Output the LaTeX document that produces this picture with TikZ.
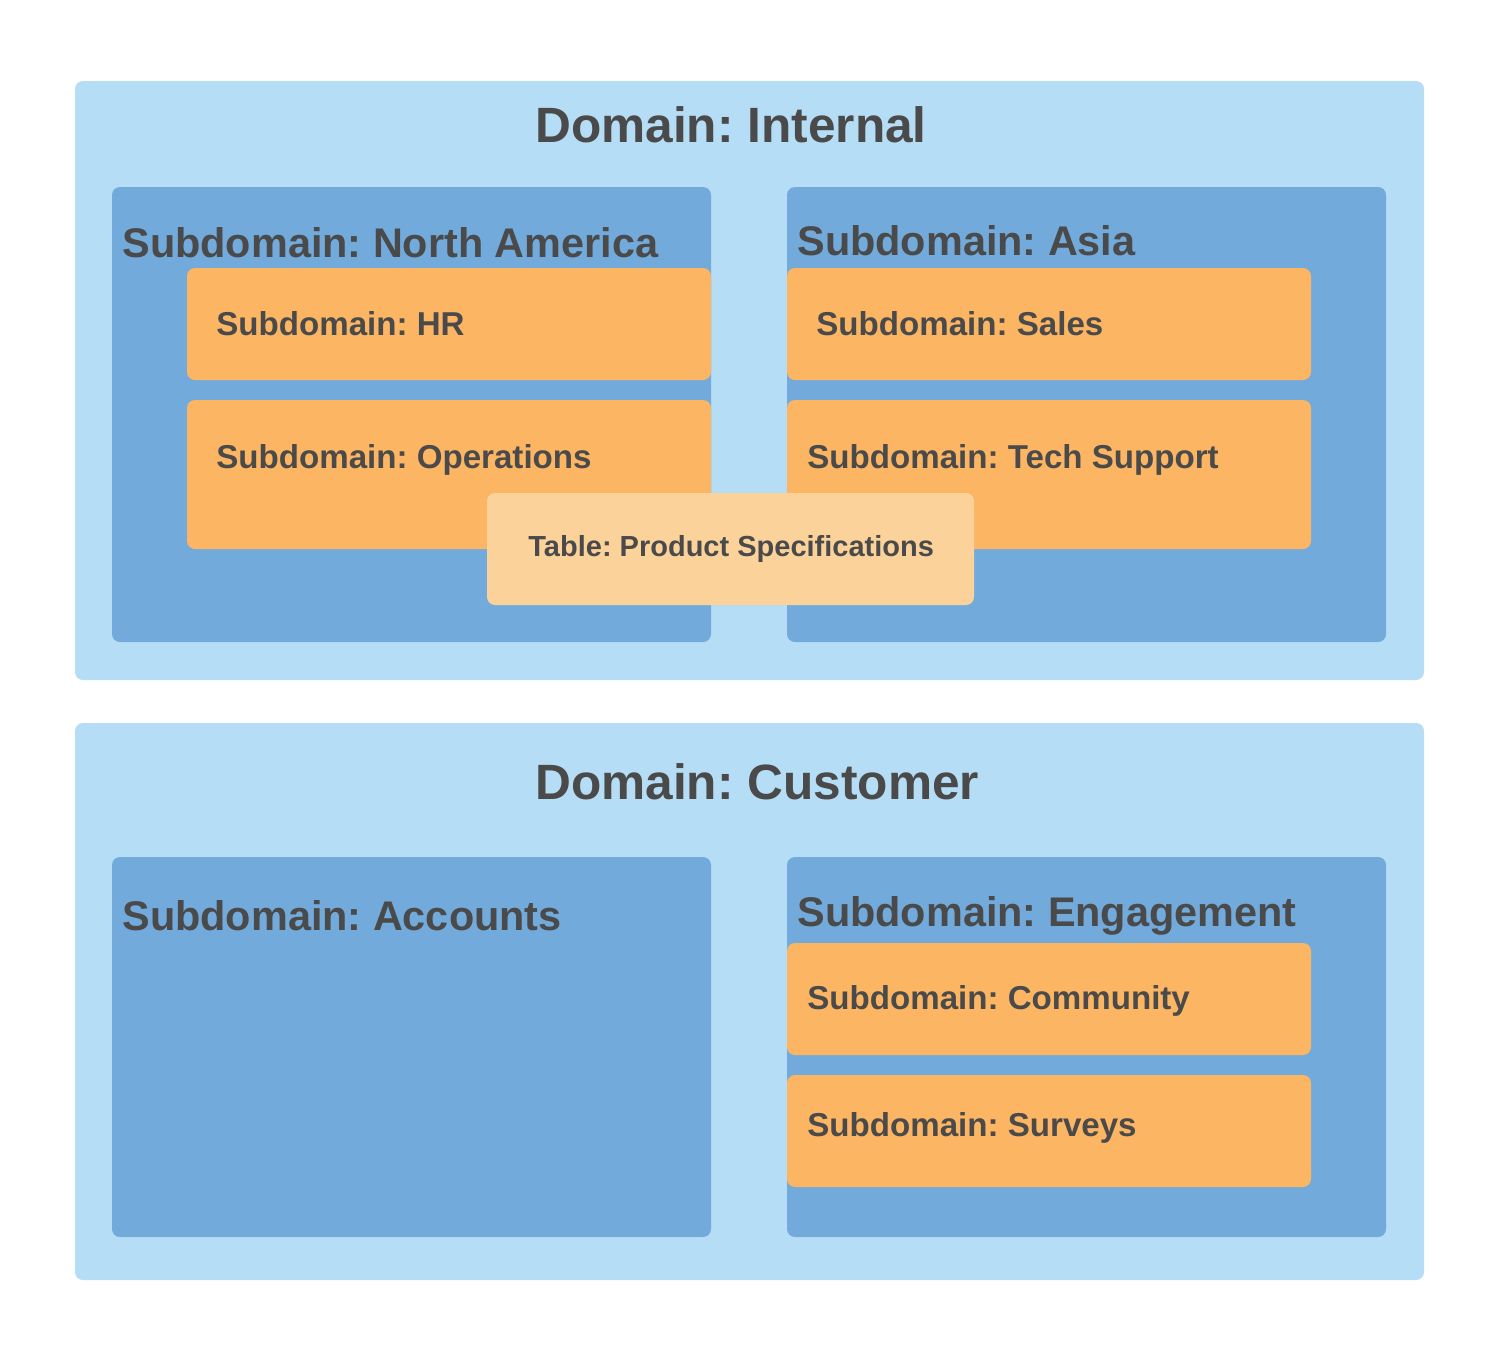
\documentclass[tikz,border=0pt]{standalone}
\usepackage{fontspec}
\setmainfont{Liberation Sans}
\frenchspacing
\definecolor{outerblue}{HTML}{B5DDF5}
\definecolor{innerblue}{HTML}{72AADB}
\definecolor{orangebox}{HTML}{FBB563}
\definecolor{paleorange}{HTML}{FCD29B}
\definecolor{txt}{HTML}{4A4A4A}
\tikzset{
  domainbox/.style={fill=outerblue, draw=none, rounded corners=4pt},
  subbox/.style={fill=innerblue, draw=none, rounded corners=4pt},
  leafbox/.style={fill=orangebox, draw=none, rounded corners=4pt},
  tablebox/.style={fill=paleorange, draw=none, rounded corners=4pt},
  domtitle/.style={anchor=base west, inner sep=0pt, text=txt, font=\bfseries\fontsize{24.8}{30}\selectfont},
  subtitle/.style={anchor=base west, inner sep=0pt, text=txt, font=\bfseries\fontsize{20.7}{24}\selectfont},
  leaftitle/.style={anchor=base west, inner sep=0pt, text=txt, font=\bfseries\fontsize{16.55}{19}\selectfont},
  tabletitle/.style={anchor=base west, inner sep=0pt, text=txt, font=\bfseries\fontsize{14.5}{17}\selectfont},
}
\begin{document}
\begin{tikzpicture}[x=0.5pt, y=-0.5pt]
\useasboundingbox (0,0) rectangle (1500,1356);
\fill[white] (0,0) rectangle (1500,1356);
% Domain Internal
\draw[domainbox] (75,81) rectangle (1424,680);
\node[domtitle] (dint) at (535,142) {Domain: Internal};
\draw[subbox] (112,187) rectangle (711,642);
\node[subtitle] (sna) at (122,257) {Subdomain: North America};
\draw[subbox] (787,187) rectangle (1386,642);
\node[subtitle] (sasia) at (797,255) {Subdomain: Asia};
\draw[leafbox] (187,268) rectangle (711,380);
\node[leaftitle] (hr) at (216,335) {Subdomain: HR};
\draw[leafbox] (187,400) rectangle (711,549);
\node[leaftitle] (ops) at (216,468) {Subdomain: Operations};
\draw[leafbox] (787,268) rectangle (1311,380);
\node[leaftitle] (sales) at (816,335) {Subdomain: Sales};
\draw[leafbox] (787,400) rectangle (1311,549);
\node[leaftitle] (tech) at (807,468) {Subdomain: Tech Support};
\draw[tablebox] (487,493) rectangle (974,605);
\node[tabletitle] (tbl) at (528,556) {Table: Product Specifications};
% Domain Customer
\draw[domainbox] (75,723) rectangle (1424,1280);
\node[domtitle] (dcust) at (535,799) {Domain: Customer};
\draw[subbox] (112,857) rectangle (711,1237);
\node[subtitle] (sacc) at (122,930) {Subdomain: Accounts};
\draw[subbox] (787,857) rectangle (1386,1237);
\node[subtitle] (seng) at (797,926) {Subdomain: Engagement};
\draw[leafbox] (787,943) rectangle (1311,1055);
\node[leaftitle] (comm) at (807,1009) {Subdomain: Community};
\draw[leafbox] (787,1075) rectangle (1311,1187);
\node[leaftitle] (surv) at (807,1136) {Subdomain: Surveys};
\end{tikzpicture}
\end{document}
